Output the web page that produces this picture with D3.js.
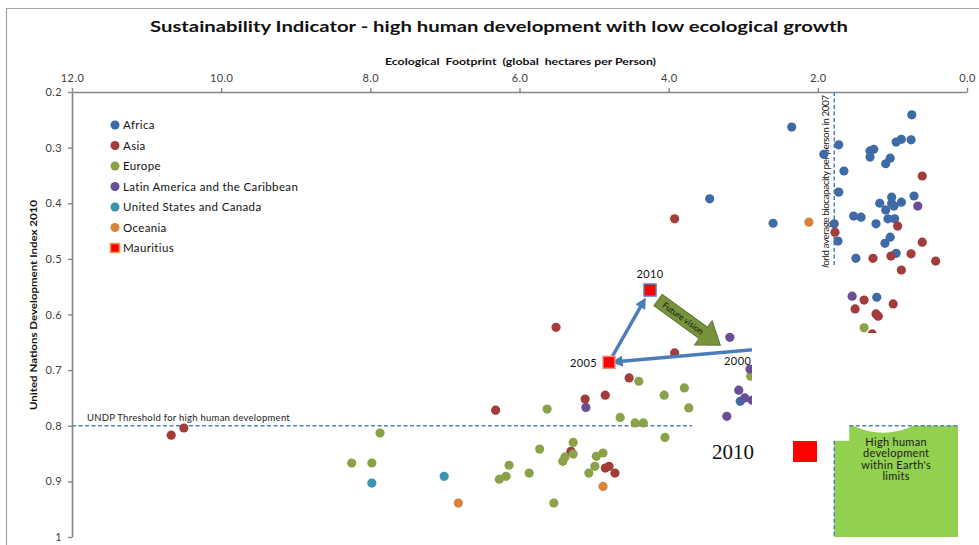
<!DOCTYPE html>
<html>
<head>
<meta charset="utf-8">
<script src="https://cdn.jsdelivr.net/npm/d3@7"></script>
<style>
  body { margin: 0; background: #fff; }
  svg { display: block; font-family: Lato, "Open Sans", sans-serif; }
</style>
</head>
<body>
<div id="chart"></div>
<script>
// data: [ecological footprint (gha/person), HDI 2010]
const africa = [[0.74,0.241],[2.35,0.263],[1.72,0.295],[0.95,0.290],[0.88,0.285],[0.75,0.286],
  [1.30,0.306],[1.25,0.303],[1.92,0.312],[1.30,0.317],[1.03,0.319],[1.09,0.329],[1.65,0.342],
  [1.72,0.380],[0.71,0.387],[1.01,0.389],[1.17,0.400],[0.88,0.398],[1.01,0.400],[0.98,0.405],
  [1.09,0.412],[1.52,0.423],[1.42,0.425],[2.60,0.436],[1.78,0.437],[1.22,0.437],[1.06,0.428],
  [0.97,0.428],[1.03,0.461],[1.10,0.472],[1.73,0.468],[1.49,0.499],[0.95,0.490],[3.45,0.392],
  [1.21,0.569],[3.04,0.756]];
const asia = [[0.60,0.351],[0.93,0.441],[1.77,0.452],[0.60,0.470],[1.26,0.499],[1.02,0.495],
  [0.75,0.491],[0.42,0.504],[0.88,0.520],[3.92,0.428],[1.38,0.574],[0.99,0.581],[1.50,0.590],
  [1.22,0.599],[1.19,0.603],[1.27,0.635],[5.51,0.623],[3.92,0.669],[4.53,0.714],[4.85,0.745],
  [5.12,0.752],[6.32,0.772],[5.31,0.846],[4.85,0.876],[4.80,0.873],[4.72,0.885],[10.67,0.817],
  [10.50,0.804]];
const europe = [[1.38,0.624],[4.40,0.720],[3.79,0.732],[4.06,0.745],[5.63,0.770],[3.73,0.768],
  [2.90,0.711],[4.65,0.785],[4.45,0.795],[4.34,0.795],[7.87,0.813],[4.05,0.821],[5.28,0.830],
  [5.73,0.842],[5.28,0.851],[5.39,0.856],[5.42,0.864],[4.97,0.855],[4.88,0.849],[8.25,0.867],
  [7.98,0.867],[6.14,0.871],[4.99,0.873],[5.87,0.885],[5.07,0.885],[6.18,0.891],[6.27,0.896],
  [5.54,0.939]];
const latinAmerica = [[0.66,0.405],[1.54,0.567],[3.18,0.641],[2.91,0.698],[3.06,0.736],
  [2.98,0.750],[2.88,0.754],[5.11,0.767],[3.22,0.783]];
const usCanada = [[7.01,0.891],[7.98,0.903]];
const oceania = [[2.12,0.434],[4.88,0.909],[6.82,0.939]];

const mauritiusYears = [2000, 2005, 2010];
const mauritius = [[2.6,0.66],[4.80,0.686],[4.25,0.556]];

const regions = ["Africa","Asia","Europe","Latin America and the Caribbean",
  "United States and Canada","Oceania","Mauritius"];
const colors = ["#3e6ba7","#a33c3a","#8aa348","#6a4e96","#3995ad","#d9843a","#ff0000"];

const xTicks = [12, 10, 8, 6, 4, 2, 0];
const yTicks = [0.2, 0.3, 0.4, 0.5, 0.6, 0.7, 0.8, 0.9, 1];

const biocapacity = 1.78;   // world average biocapacity 2007
const threshold = 0.8;      // UNDP high human development

const W = 979, H = 545;
const svg = d3.select("#chart").append("svg")
  .attr("width", W).attr("height", H);

const x = d3.scaleLinear().domain([12, 0]).range([72, 967]);
const y = d3.scaleLinear().domain([0.2, 1]).range([92, 537]);

// frame
svg.append("path")
  .attr("d", `M6.5,${H} V8.5 H${W}`)
  .attr("fill", "none").attr("stroke", "#a6a6a6").attr("stroke-width", 1.2);

// title
svg.append("text")
  .attr("x", 150).attr("y", 32)
  .attr("textLength", 698).attr("lengthAdjust", "spacingAndGlyphs")
  .style("font-size", "16px").style("font-weight", "bold").attr("fill", "#111")
  .text("Sustainability  Indicator - high human development with low ecological growth");

// x label
svg.append("text")
  .attr("x", 385).attr("y", 65)
  .attr("textLength", 271).attr("lengthAdjust", "spacingAndGlyphs")
  .style("font-size", "10px").style("font-weight", "bold").attr("fill", "#111")
  .style("white-space", "pre")
  .text("Ecological  Footprint  (global  hectares per Person)");

// y label
svg.append("text")
  .attr("transform", "translate(37,410) rotate(-90)")
  .attr("textLength", 210).attr("lengthAdjust", "spacingAndGlyphs")
  .style("font-size", "10px").style("font-weight", "bold").attr("fill", "#111")
  .text("United Nations Development Index 2010");

// axes
const xAxis = svg.append("g")
  .attr("transform", "translate(0,92)")
  .call(d3.axisTop(x).tickValues(xTicks).tickFormat(d3.format(".1f"))
    .tickSize(4).tickSizeOuter(0).tickPadding(6));
const yAxis = svg.append("g")
  .attr("transform", "translate(72,0)")
  .call(d3.axisLeft(y).tickValues(yTicks).tickFormat(d => d === 1 ? "1" : d.toFixed(1))
    .tickSize(4).tickSizeOuter(0).tickPadding(6));
[xAxis, yAxis].forEach(g => {
  g.select(".domain").attr("stroke", "#868686").attr("stroke-width", 1.6);
  g.selectAll(".tick line").attr("stroke", "#868686").attr("stroke-width", 1.4);
  g.selectAll(".tick text").attr("fill", "#404040")
    .style("font-size", "11px").style("font-family", "Lato, sans-serif")
    .style("letter-spacing", "0.4px");
});

// reference lines
const dashed = sel => sel.attr("stroke", "#4f81bd").attr("stroke-width", 1.5)
  .attr("stroke-dasharray", "4,2.5").attr("fill", "none");

svg.append("line")
  .attr("x1", x(biocapacity)).attr("x2", x(biocapacity))
  .attr("y1", y(0.2)).attr("y2", y(0.515))
  .call(dashed);

svg.append("clipPath").attr("id", "bioclip")
  .append("rect").attr("x", 800).attr("y", y(0.2)).attr("width", 60).attr("height", y(0.515) - y(0.2));
svg.append("g").attr("clip-path", "url(#bioclip)")
  .append("text")
  .attr("transform", `translate(${x(biocapacity) - 5},${y(0.206)}) rotate(-90)`)
  .attr("text-anchor", "end")
  .style("font-size", "10px").attr("fill", "#222")
  .style("letter-spacing", "-0.5px")
  .text("World average  biocapacity per person in 2007");

svg.append("line")
  .attr("x1", x(12)).attr("x2", 692)
  .attr("y1", y(threshold)).attr("y2", y(threshold))
  .call(dashed);
svg.append("text")
  .attr("x", 87).attr("y", y(threshold) - 5)
  .style("font-size", "9.5px").attr("fill", "#222")
  .style("letter-spacing", "0.25px")
  .text("UNDP Threshold for high human development");

// points
const groups = [africa, asia, europe, latinAmerica, usCanada, oceania];
groups.forEach((data, i) => {
  svg.append("g").selectAll("circle")
    .data(data).join("circle")
      .attr("cx", d => x(d[0]))
      .attr("cy", d => y(d[1]))
      .attr("r", 4.6)
      .attr("fill", colors[i]);
});

// Mauritius trajectory
const defs = svg.append("defs");
defs.append("marker").attr("id", "arr")
  .attr("viewBox", "0 0 10 10").attr("refX", 6).attr("refY", 5)
  .attr("markerWidth", 3.2).attr("markerHeight", 3.2).attr("orient", "auto")
  .append("path").attr("d", "M0,0 L10,5 L0,10 Z").attr("fill", "#4a7ebb");

const mp = mauritius.map(d => [x(d[0]), y(d[1])]);
function shorten(a, b, s0, s1) {
  const dx = b[0] - a[0], dy = b[1] - a[1], L = Math.hypot(dx, dy);
  return [a[0] + dx * s0 / L, a[1] + dy * s0 / L, b[0] - dx * s1 / L, b[1] - dy * s1 / L];
}
[[0, 1, 0, 7], [1, 2, 7, 13]].forEach(([a, b, s0, s1]) => {
  const c = shorten(mp[a], mp[b], s0, s1);
  svg.append("line")
    .attr("x1", c[0]).attr("y1", c[1]).attr("x2", c[2]).attr("y2", c[3])
    .attr("stroke", "#4a7ebb").attr("stroke-width", 3.5)
    .attr("marker-end", "url(#arr)");
});

svg.selectAll(".msq")
  .data(mauritius).join("rect")
    .attr("class", "msq")
    .attr("x", d => x(d[0]) - 6).attr("y", d => y(d[1]) - 6)
    .attr("width", 12).attr("height", 12)
    .attr("fill", "#ff0000")
    .attr("stroke", (d, i) => i === 2 ? "#4f81bd" : "#f28b82")
    .attr("stroke-width", 1.5);

// year labels
svg.append("text").attr("x", mp[2][0]).attr("y", mp[2][1] - 12)
  .attr("text-anchor", "middle").style("font-size", "11px").attr("fill", "#111")
  .style("letter-spacing", "0.4px")
  .text(mauritiusYears[2]);
svg.append("text").attr("x", mp[1][0] - 12).attr("y", mp[1][1] + 5)
  .attr("text-anchor", "end").style("font-size", "11px").attr("fill", "#111")
  .style("letter-spacing", "0.4px")
  .text(mauritiusYears[1]);
svg.append("text").attr("x", mp[0][0] - 49).attr("y", mp[0][1] + 17)
  .style("font-size", "11px").attr("fill", "#111")
  .style("letter-spacing", "0.4px")
  .text(mauritiusYears[0]);

// future vision block arrow
const fv = svg.append("g").attr("transform", `translate(${mp[2][0] + 8},${mp[2][1] + 10}) rotate(36)`);
fv.append("path")
  .attr("d", "M0,-7 L56,-7 L56,-15 L77,0 L56,15 L56,7 L0,7 Z")
  .attr("fill", "#77933c").attr("stroke", "#5f7530").attr("stroke-width", 1);
fv.append("text").attr("x", 31).attr("y", 3)
  .attr("text-anchor", "middle").style("font-size", "8.5px").attr("fill", "#111")
  .text("Future vision");

// white cover over part of the plot
svg.append("rect").attr("x", 752).attr("y", 333).attr("width", W - 752).attr("height", 87)
  .attr("fill", "#fff");

// high human development within earth's limits
const gl = x(biocapacity), gr = x(0.12), gt = y(threshold), gb = y(1);
svg.append("path")
  .attr("d", `M${gl},${gt + 15} H${gl + 15} V${gt} H${gl + 19} Q${gl + 49},${gt + 14} ${gl + 79},${gt} H${gr} V${gb} H${gl} Z`)
  .attr("fill", "#92d050");
svg.append("line").attr("x1", gl).attr("x2", gl).attr("y1", gt + 15).attr("y2", gb).call(dashed);
svg.append("line").attr("x1", gl + 15).attr("x2", gr).attr("y1", gt).attr("y2", gt).call(dashed);
["High human", "development", "within Earth's", "limits"].forEach((t, i) => {
  svg.append("text").attr("x", (gl + gr) / 2).attr("y", gt + 20 + i * 11.5)
    .attr("text-anchor", "middle").style("font-size", "11px").attr("fill", "#1a1a1a")
    .style("letter-spacing", "0.3px")
    .text(t);
});

// 2010 marker note
svg.append("text").attr("x", 712).attr("y", 459)
  .style("font-family", "'Liberation Serif', serif").style("font-size", "21px").attr("fill", "#111")
  .text("2010");
svg.append("rect").attr("x", 793).attr("y", 441).attr("width", 24).attr("height", 21)
  .attr("fill", "#ff0000");

// legend
const legend = svg.append("g").attr("transform", "translate(115,125)");
regions.forEach((r, i) => {
  const g = legend.append("g").attr("transform", `translate(0,${i * 20.5})`);
  if (i < 6) {
    g.append("circle").attr("r", 4.5).attr("fill", colors[i]);
  } else {
    g.append("rect").attr("x", -4.5).attr("y", -4.5).attr("width", 9).attr("height", 9)
      .attr("fill", colors[i]).attr("stroke", "#f79646").attr("stroke-width", 1.5);
  }
  g.append("text").attr("x", 8).attr("y", 4)
    .style("font-size", "11.5px").style("letter-spacing", "0.35px").attr("fill", "#111")
    .text(r);
});
</script>
</body>
</html>
